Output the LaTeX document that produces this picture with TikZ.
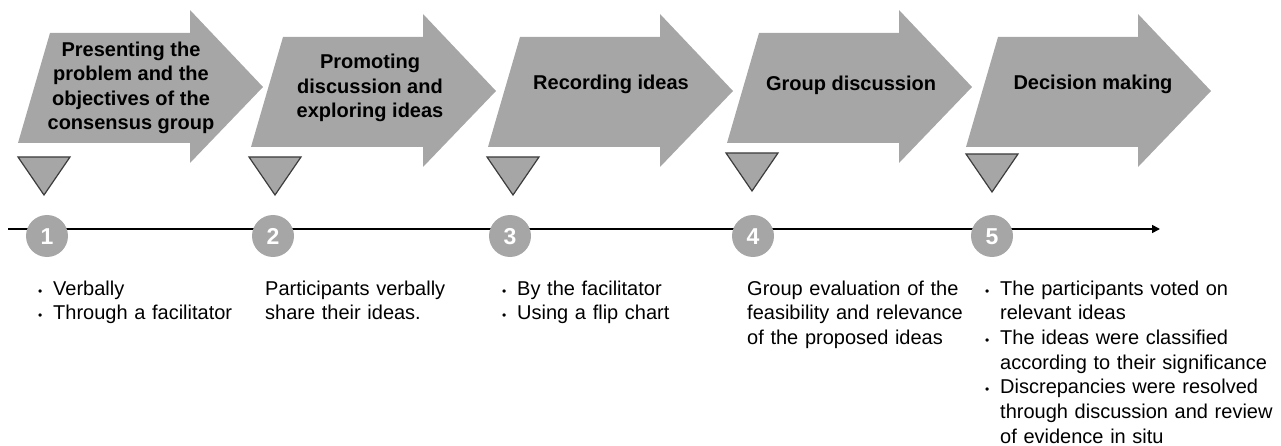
\documentclass[tikz,border=0pt]{standalone}
\usepackage{fontspec}
\setmainfont{Liberation Sans}
\usetikzlibrary{arrows.meta}
\definecolor{shapegray}{HTML}{A6A6A6}
\definecolor{edgegray}{HTML}{3C3C3C}
\newcommand\stagearrow[2]{%
  \fill[shapegray] (#1+32,#2) -- (#1+172,#2) -- (#1+172,#2-23) -- (#1+245,#2+54)
    -- (#1+172,#2+130) -- (#1+172,#2+110) -- (#1,#2+110) -- cycle;}
\newcommand\stagemarker[2]{%
  \filldraw[fill=shapegray, draw=edgegray, line width=1.2pt, line join=miter]
    (#1,#2) -- (#1+52,#2) -- (#1+26,#2+38) -- cycle;}
\newcommand\bul{\leavevmode\llap{{\fontsize{12}{12}\selectfont\textbullet}\hspace{11pt}}}
\tikzset{
  headtext/.style={align=center, font=\fontsize{20}{24.3}\selectfont\bfseries, text=black, inner sep=0pt},
  bodytext/.style={anchor=base west, text width=300pt, align=left, inner sep=0pt,
    font=\fontsize{20}{24.7}\selectfont, text=black},
  numcircle/.style={circle, fill=shapegray, minimum size=42pt, inner sep=0pt,
    text height=16.5pt, text depth=0pt,
    text=white, font=\fontsize{23}{23}\selectfont\bfseries},
}
\begin{document}
\begin{tikzpicture}[x=1pt, y=-1pt]
\useasboundingbox (0,0) rectangle (1281,446);
% arrows
\stagearrow{18}{33}
\stagearrow{251}{37}
\stagearrow{488}{37}
\stagearrow{727}{33}
\stagearrow{966}{37}
\node[headtext] (h1) at (131,88) {Presenting the\\problem and the\\objectives of the\\consensus group};
\node[headtext] (h2) at (370,88) {Promoting\\discussion and\\exploring ideas};
\node[headtext] (h3) at (611,84) {Recording ideas};
\node[headtext] (h4) at (851,85) {Group discussion};
\node[headtext] (h5) at (1093,84) {Decision making};
% markers
\stagemarker{18}{157}
\stagemarker{249}{157}
\stagemarker{487}{157}
\stagemarker{726}{153}
\stagemarker{966}{154}
% timeline
\coordinate (ls) at (8,229);
\coordinate (le) at (1160,229);
\draw[line width=1.6pt, -{Triangle[length=8pt,width=8pt]}] (ls) -- (le);
\node[numcircle] (c1) at (47,236) {1};
\node[numcircle] (c2) at (273,236) {2};
\node[numcircle] (c3) at (510,236) {3};
\node[numcircle] (c4) at (753,236) {4};
\node[numcircle] (c5) at (992,236) {5};
% descriptions
\node[bodytext] (t1) at (53,295) {\bul Verbally\\\bul Through a facilitator};
\node[bodytext] (t2) at (265,295) {Participants verbally\\share their ideas.};
\node[bodytext] (t3) at (517,295) {\bul By the facilitator\\\bul Using a flip chart};
\node[bodytext] (t4) at (747,295) {Group evaluation of the\\feasibility and relevance\\of the proposed ideas};
\node[bodytext] (t5) at (1000,295) {\bul The participants voted on\\relevant ideas\\\bul The ideas were classified\\according to their significance\\\bul Discrepancies were resolved\\through discussion and review\\of evidence in situ};
\end{tikzpicture}
\end{document}
